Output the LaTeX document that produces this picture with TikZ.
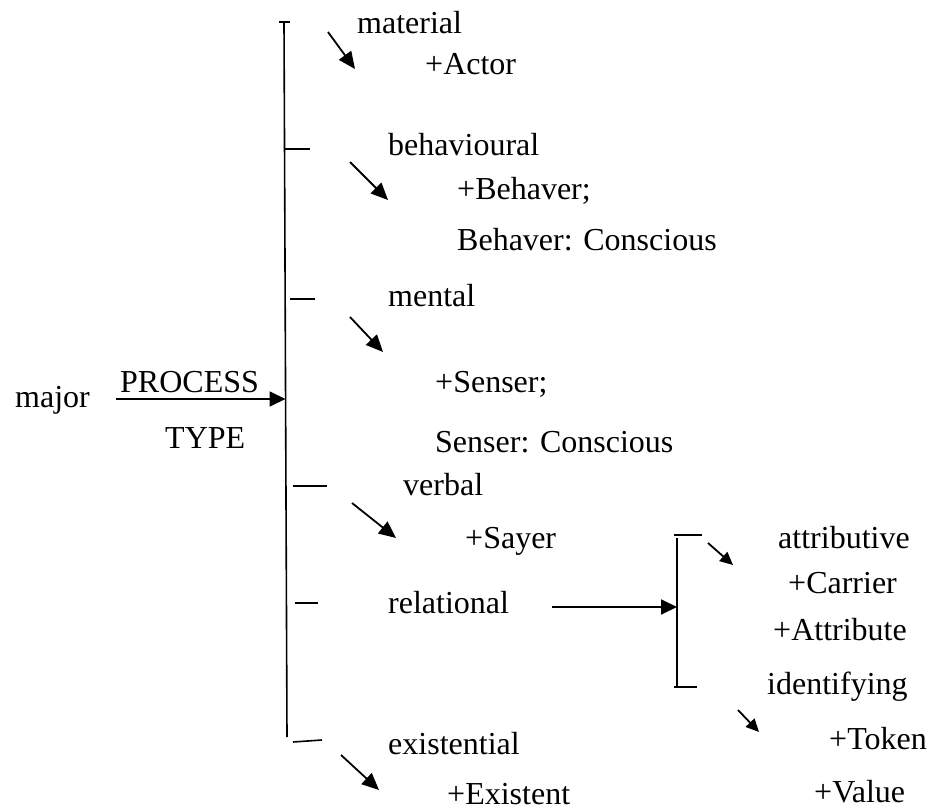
\documentclass[tikz,border=0pt]{standalone}
\usepackage{fontspec}
\setmainfont{Liberation Serif}
\usetikzlibrary{arrows.meta}
\begin{document}
\begin{tikzpicture}[x=1pt,y=-1pt,
  lbl/.style={inner sep=0pt, anchor=base west, font=\fontsize{32}{38}\selectfont},
  ln/.style={line width=1.6pt},
  arr/.style={line width=1.8pt, -{Triangle[length=16pt,width=15pt]}},
  darr/.style={line width=1.8pt, -{Triangle[length=17pt,width=15pt]}},
  sarr/.style={line width=1.8pt, -{Triangle[length=13pt,width=12pt]}}]
\useasboundingbox (0,0) rectangle (935,810);

% labels
\node[lbl] (major) at (15,407) {major};
\node[lbl] (process) at (120,393) {PROCESS};
\node[lbl] (type) at (165,448) {TYPE};
\node[lbl] (material) at (357,34) {material};
\node[lbl] (actor) at (425,75) {+Actor};
\node[lbl] (behav) at (388,156) {behavioural};
\node[lbl] (behaver) at (457,200) {+Behaver;};
\node[lbl] (behcons) at (457,251) {Behaver: Conscious};
\node[lbl] (mental) at (388,307) {mental};
\node[lbl] (senser) at (435,393) {+Senser;};
\node[lbl] (sencons) at (435,453) {Senser: Conscious};
\node[lbl] (verbal) at (403,495) {verbal};
\node[lbl] (sayer) at (465,548) {+Sayer};
\node[lbl] (relational) at (388,613) {relational};
\node[lbl] (exist) at (388,754) {existential};
\node[lbl] (existent) at (447,804) {+Existent};
\node[lbl] (attrib) at (778,548) {attributive};
\node[lbl] (carrier) at (788,593) {+Carrier};
\node[lbl] (attribute) at (773,640) {+Attribute};
\node[lbl] (ident) at (767,694) {identifying};
\node[lbl] (token) at (829,749) {+Token};
\node[lbl] (value) at (814,802) {+Value};

% main bracket
\coordinate (vtop) at (284,22);
\coordinate (vbot) at (287,737);
\coordinate (capl) at (279,22);
\coordinate (capr) at (290,22);
\draw[ln] (vtop) -- (vbot);
\draw[ln] (capl) -- (capr);

% main arrow
\coordinate (ms) at (116,399);
\coordinate (me) at (285.5,399);
\draw[arr] (ms) -- (me);

% ticks
\coordinate (t1a) at (284,149); \coordinate (t1b) at (310,149);
\coordinate (t2a) at (290,299); \coordinate (t2b) at (315,299);
\coordinate (t3a) at (293,486); \coordinate (t3b) at (327,486);
\coordinate (t4a) at (295,603); \coordinate (t4b) at (318,603);
\coordinate (t5a) at (293,742); \coordinate (t5b) at (322,740);
\draw[ln] (t1a) -- (t1b);
\draw[ln] (t2a) -- (t2b);
\draw[ln] (t3a) -- (t3b);
\draw[ln] (t4a) -- (t4b);
\draw[ln] (t5a) -- (t5b);

% diagonal arrows
\coordinate (a1s) at (328,32);  \coordinate (a1e) at (355,69);
\coordinate (a2s) at (350,162); \coordinate (a2e) at (388,200);
\coordinate (a3s) at (350,317); \coordinate (a3e) at (383,352);
\coordinate (a4s) at (352,503); \coordinate (a4e) at (396,538);
\coordinate (a5s) at (341,755); \coordinate (a5e) at (379,790);
\draw[darr] (a1s) -- (a1e);
\draw[darr] (a2s) -- (a2e);
\draw[darr] (a3s) -- (a3e);
\draw[darr] (a4s) -- (a4e);
\draw[darr] (a5s) -- (a5e);

% relational arrow and bracket
\coordinate (rs) at (552,607);
\coordinate (re) at (677,607);
\draw[arr] (rs) -- (re);
\coordinate (btop) at (677,538); \coordinate (bbot) at (677,686);
\coordinate (bt1) at (674,535); \coordinate (bt2) at (702,535);
\coordinate (bb1) at (674,687); \coordinate (bb2) at (697,687);
\draw[ln] (btop) -- (bbot);
\draw[ln] (bt1) -- (bt2);
\draw[ln] (bb1) -- (bb2);

% sub arrows
\coordinate (s1s) at (708,543); \coordinate (s1e) at (733,565);
\coordinate (s2s) at (738,710); \coordinate (s2e) at (759,732);
\draw[sarr] (s1s) -- (s1e);
\draw[sarr] (s2s) -- (s2e);
\end{tikzpicture}
\end{document}
